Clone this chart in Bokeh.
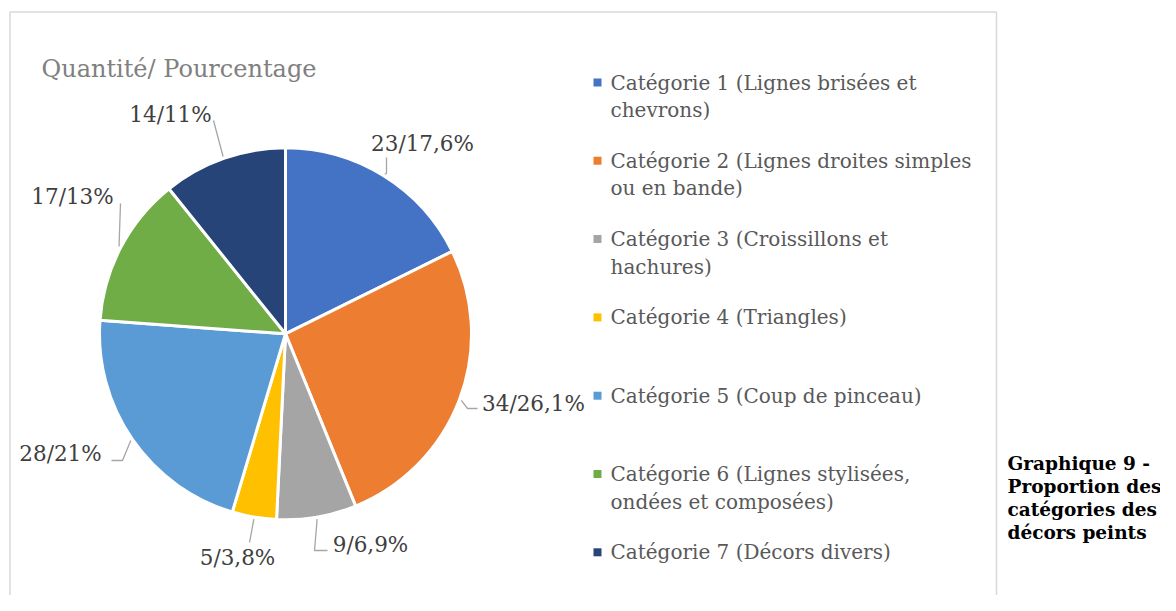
import numpy as np
from bokeh.plotting import figure
from bokeh.models import Range1d, ColumnDataSource
from bokeh.core.properties import value
from bokeh.embed import file_html
from bokeh.resources import INLINE

# ---------------- data ----------------
categories = [
    "Catégorie 1 (Lignes brisées et\nchevrons)",
    "Catégorie 2 (Lignes droites simples\nou en bande)",
    "Catégorie 3 (Croissillons et\nhachures)",
    "Catégorie 4 (Triangles)",
    "Catégorie 5 (Coup de pinceau)",
    "Catégorie 6 (Lignes stylisées,\nondées et composées)",
    "Catégorie 7 (Décors divers)",
]
counts = [23, 34, 9, 5, 28, 17, 14]
pct_labels = ["23/17,6%", "34/26,1%", "9/6,9%", "5/3,8%", "28/21%", "17/13%", "14/11%"]
colors = ["#4472C4", "#ED7D31", "#A5A5A5", "#FFC000", "#5B9BD5", "#70AD47", "#264478"]
title_text = "Quantité/ Pourcentage"
caption_lines = ["Graphique 9 -", "Proportion des", "catégories des", "décors peints"]

# ---------------- layout (screen px, y down) ----------------
W, H = 1160, 595
TOP = 611  # y_data = TOP - y_screen


def Y(ys):
    return TOP - ys


CX, CY, R = 285.0, 333.3, 186.0
FONT = "DejaVu Serif"

# data label centres and leader bend/end points (layout)
label_pos = [(422, 143), (533, 403), (370, 544), (237, 557), (60, 453), (72, 196), (170, 114)]
leader_mid = [(386, 173), (467, 408), (314, 550), (249, 542), (122, 460), (120, 203), (213, 120)]
leader_end = [(386, 157), (477, 408), (327, 550), (249, 542), (111, 460), (120, 203), (213, 120)]

legend_x_sq, legend_x_txt = 597, 610
legend_y0, legend_dy, legend_lh = 82, 78.3, 27.5

p = figure(width=W, height=H, x_range=Range1d(0, W), y_range=Range1d(TOP - H, TOP),
           output_backend="svg", toolbar_location=None, x_axis_location=None, y_axis_location=None,
           min_border=0, outline_line_color=None, background_fill_color="white",
           border_fill_color="white")
p.grid.visible = False

# frame
p.quad(left=[9.5], right=[996], top=[Y(11.5)], bottom=[Y(640)], fill_color=None,
       line_color="#D9D9D9", line_width=1.5)

# pie
vals = np.array(counts, dtype=float)
frac = vals / vals.sum()
cum = np.concatenate([[0], np.cumsum(frac)])
start = np.pi / 2 - cum[:-1] * 2 * np.pi
end = np.pi / 2 - cum[1:] * 2 * np.pi
src = ColumnDataSource(dict(start=start, end=end, color=colors))
p.wedge(x=CX, y=Y(CY), radius=R, start_angle="start", end_angle="end", direction="clock",
        fill_color="color", line_color="white", line_width=3, source=src)

# leader lines
mid = (cum[:-1] + cum[1:]) / 2 * 2 * np.pi  # clockwise from top
xs, ys = [], []
for i, a in enumerate(mid):
    ex = CX + (R + 2) * np.sin(a)
    ey = CY - (R + 2) * np.cos(a)
    xs.append([ex, leader_mid[i][0], leader_end[i][0]])
    ys.append([Y(ey), Y(leader_mid[i][1]), Y(leader_end[i][1])])
p.multi_line(xs=xs, ys=ys, line_color="#A6A6A6", line_width=1.3)

# data labels
p.text(x=[q[0] for q in label_pos], y=[Y(q[1]) for q in label_pos], text=pct_labels,
       text_font=value(FONT), text_font_size="21.5px", text_color="#404040",
       text_align="center", text_baseline="middle")

# title
p.text(x=[41], y=[Y(68)], text=[title_text], text_font=value(FONT), text_font_size="24px",
       text_color="#808080", text_align="left", text_baseline="alphabetic")

# legend
sq_y, tx_x, tx_y, tx_t = [], [], [], []
for i, c in enumerate(categories):
    yc = legend_y0 + i * legend_dy
    sq_y.append(Y(yc))
    for j, line in enumerate(c.split("\n")):
        tx_x.append(legend_x_txt)
        tx_y.append(Y(yc + j * legend_lh))
        tx_t.append(line)
p.scatter(x=[legend_x_sq] * len(categories), y=sq_y, marker="square", size=8,
          fill_color=colors, line_color=None)
p.text(x=tx_x, y=tx_y, text=tx_t, text_font=value(FONT), text_font_size="20px",
       text_color="#595959", text_align="left", text_baseline="middle")

# caption
p.text(x=[1007] * len(caption_lines), y=[Y(463 + k * 23) for k in range(len(caption_lines))],
       text=caption_lines, text_font=value(FONT), text_font_size="18.5px",
       text_font_style="bold", text_color="#000000", text_align="left", text_baseline="middle")

open("out.html", "w").write(file_html(p, INLINE))
